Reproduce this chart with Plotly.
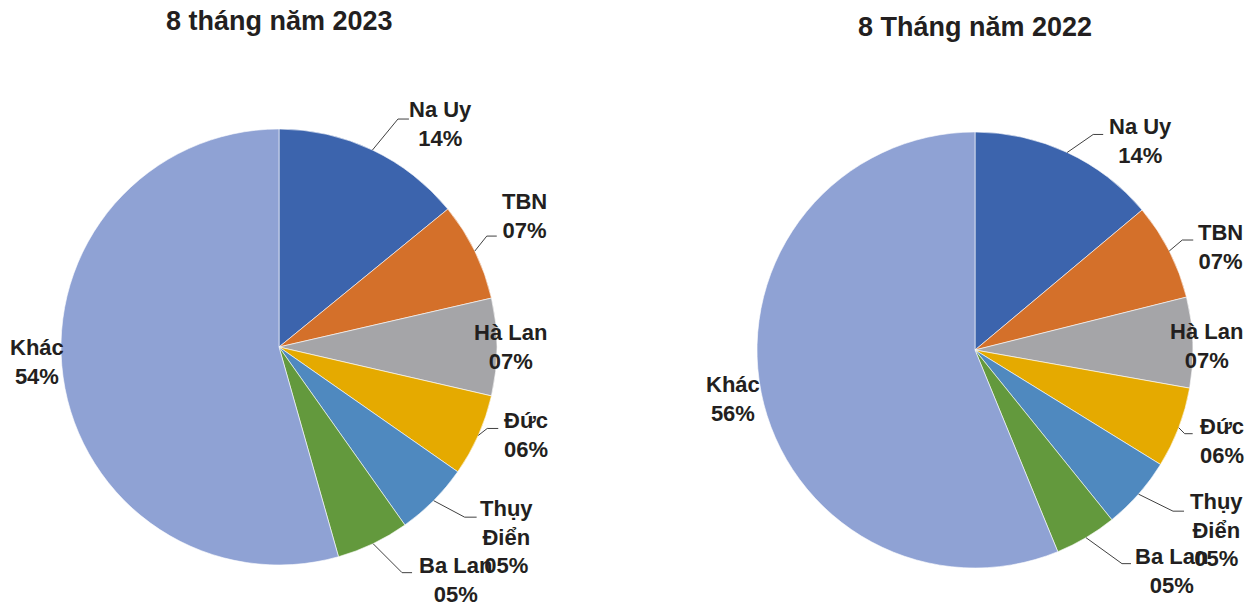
import math
import plotly.graph_objects as go

# ---- data ----
labels = ["Na Uy", "TBN", "Hà Lan", "Đức", "Thụy Điển", "Ba Lan", "Khác"]
label_text = ["Na Uy", "TBN", "Hà Lan", "Đức", "Thụy<br>Điển", "Ba Lan", "Khác"]
values_2023 = [14.1, 7.3, 7.2, 6.1, 5.5, 5.4, 54.4]
values_2022 = [13.9, 7.2, 6.7, 6.0, 5.4, 4.6, 56.2]
pct_2023 = ["14%", "07%", "07%", "06%", "05%", "05%", "54%"]
pct_2022 = ["14%", "07%", "07%", "06%", "05%", "05%", "56%"]
titles = ["8 tháng năm 2023", "8 Tháng năm 2022"]

# ---- style ----
colors = ["#3C64AD", "#D4702A", "#A5A5A8", "#E5AA00", "#4F89BF", "#63993D", "#8FA2D4"]
W, H = 1254, 603
OFF = 8  # page body margin
TXT = "#231F20"
FONT = "Liberation Sans, Arial, sans-serif"

# pie geometry (page pixels): center x, center y, radius, title y
pies = [
    dict(cx=279, cy=347, r=218, ty=21),
    dict(cx=975, cy=350, r=218, ty=27),
]
# label layout per slice: (elbow dx, elbow dy, horizontal len, text dx, text dy) ; None elbow = no line
label_layout = [
    [(25.5, -31, 11, 68, -26), (12, -15, 10, 50, -35), (None, None, 0, 13, 0),
     (9, -7, 11, 48, 0), (31, 16.5, 12, 73, 36), (29, 29, 10, 82, 36), (None, None, 0, -26, -15)],
    [(26, -18, 10, 73, -11), (13, -11, 11, 51, -4), (None, None, 0, 14, 4),
     (6, 6, 8, 43, 13), (34.5, 17, 11, 78, 36), (36, 26, 9, 86, 33), (None, None, 0, -28, 7)],
]

def px(x):
    return (x - OFF) / W

def py(y):
    return 1 - (y - OFF) / H

fig = go.Figure()
annotations = []
shapes = []

for k, (vals, pcts) in enumerate([(values_2023, pct_2023), (values_2022, pct_2022)]):
    g = pies[k]
    cx, cy, r = g["cx"], g["cy"], g["r"]
    fig.add_trace(go.Pie(
        labels=labels, values=vals, sort=False, direction="clockwise", rotation=0,
        marker=dict(colors=colors, line=dict(color="white", width=0.6)),
        textinfo="none", hoverinfo="label+percent", showlegend=False,
        domain=dict(x=[px(cx - r), px(cx + r)], y=[py(cy + r), py(cy - r)]),
    ))
    annotations.append(dict(
        x=px(cx), y=py(g["ty"]), xref="paper", yref="paper", showarrow=False,
        text="<b>%s</b>" % titles[k], font=dict(family=FONT, size=27, color=TXT),
        xanchor="center", yanchor="middle"))
    total = sum(vals)
    cum = 0.0
    for i, v in enumerate(vals):
        theta = math.radians(360.0 * (cum + v / 2.0) / total)
        cum += v
        ex0 = cx + r * math.sin(theta)
        ey0 = cy - r * math.cos(theta)
        edx, edy, hl, tdx, tdy = label_layout[k][i]
        if edx is not None:
            x1, y1 = ex0 + edx, ey0 + edy
            x2 = x1 + hl
            shapes.append(dict(
                type="path", xref="paper", yref="paper",
                path="M %f,%f L %f,%f L %f,%f" % (px(ex0), py(ey0), px(x1), py(y1), px(x2), py(y1)),
                line=dict(color="#404040", width=1)))
        annotations.append(dict(
            x=px(ex0 + tdx), y=py(ey0 + tdy), xref="paper", yref="paper", showarrow=False,
            text="<b>%s<br>%s</b>" % (label_text[i], pcts[i]), align="center",
            font=dict(family=FONT, size=22, color=TXT),
            xanchor="center", yanchor="middle"))

fig.update_layout(
    width=W, height=H, margin=dict(l=0, r=0, t=0, b=0),
    paper_bgcolor="white", plot_bgcolor="white",
    annotations=annotations, shapes=shapes,
)
fig.write_html("out.html")
